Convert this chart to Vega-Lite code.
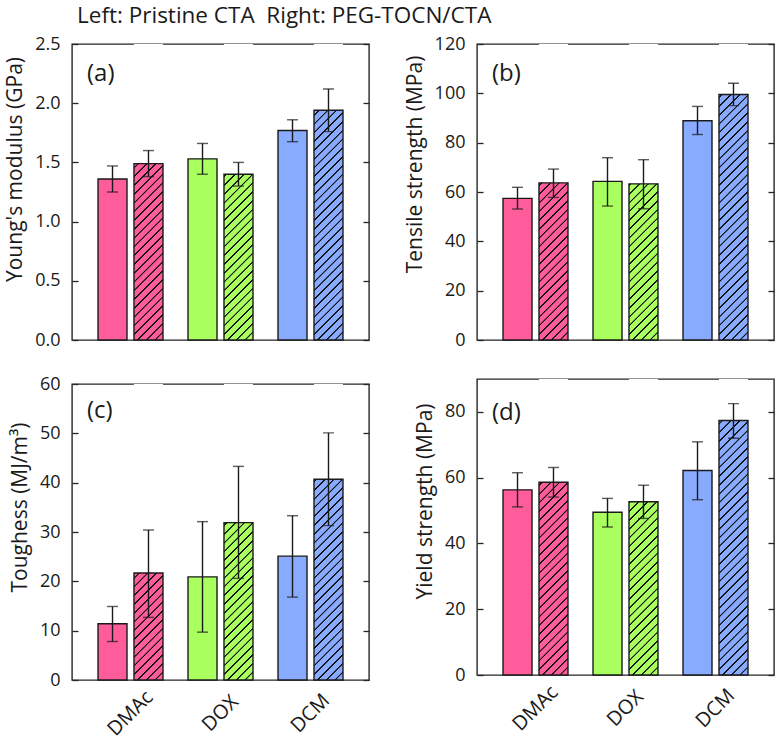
{
  "$schema": "https://vega.github.io/schema/vega-lite/v6.json",
  "padding": {"left": 3, "top": 4, "right": 0, "bottom": 0},
  "params": [
    {"name": "hatch", "value": {"gradient": "linear", "x1": 0, "y1": 0, "x2": 0.1066, "y2": 1.0876, "stops": [
      {"offset": 0, "color": "rgba(0,0,0,0)"}, {"offset": 0.0014, "color": "#111"}, {"offset": 0.0054, "color": "#111"}, {"offset": 0.0068, "color": "rgba(0,0,0,0)"},
      {"offset": 0.027, "color": "rgba(0,0,0,0)"}, {"offset": 0.0284, "color": "#111"}, {"offset": 0.0324, "color": "#111"}, {"offset": 0.0338, "color": "rgba(0,0,0,0)"},
      {"offset": 0.054, "color": "rgba(0,0,0,0)"}, {"offset": 0.0554, "color": "#111"}, {"offset": 0.0594, "color": "#111"}, {"offset": 0.0608, "color": "rgba(0,0,0,0)"},
      {"offset": 0.081, "color": "rgba(0,0,0,0)"}, {"offset": 0.0824, "color": "#111"}, {"offset": 0.0864, "color": "#111"}, {"offset": 0.0878, "color": "rgba(0,0,0,0)"},
      {"offset": 0.108, "color": "rgba(0,0,0,0)"}, {"offset": 0.1094, "color": "#111"}, {"offset": 0.1134, "color": "#111"}, {"offset": 0.1148, "color": "rgba(0,0,0,0)"},
      {"offset": 0.135, "color": "rgba(0,0,0,0)"}, {"offset": 0.1364, "color": "#111"}, {"offset": 0.1404, "color": "#111"}, {"offset": 0.1418, "color": "rgba(0,0,0,0)"},
      {"offset": 0.162, "color": "rgba(0,0,0,0)"}, {"offset": 0.1634, "color": "#111"}, {"offset": 0.1674, "color": "#111"}, {"offset": 0.1688, "color": "rgba(0,0,0,0)"},
      {"offset": 0.189, "color": "rgba(0,0,0,0)"}, {"offset": 0.1904, "color": "#111"}, {"offset": 0.1944, "color": "#111"}, {"offset": 0.1958, "color": "rgba(0,0,0,0)"},
      {"offset": 0.216, "color": "rgba(0,0,0,0)"}, {"offset": 0.2174, "color": "#111"}, {"offset": 0.2214, "color": "#111"}, {"offset": 0.2228, "color": "rgba(0,0,0,0)"},
      {"offset": 0.243, "color": "rgba(0,0,0,0)"}, {"offset": 0.2444, "color": "#111"}, {"offset": 0.2484, "color": "#111"}, {"offset": 0.2498, "color": "rgba(0,0,0,0)"},
      {"offset": 0.27, "color": "rgba(0,0,0,0)"}, {"offset": 0.2714, "color": "#111"}, {"offset": 0.2754, "color": "#111"}, {"offset": 0.2768, "color": "rgba(0,0,0,0)"},
      {"offset": 0.297, "color": "rgba(0,0,0,0)"}, {"offset": 0.2984, "color": "#111"}, {"offset": 0.3024, "color": "#111"}, {"offset": 0.3038, "color": "rgba(0,0,0,0)"},
      {"offset": 0.324, "color": "rgba(0,0,0,0)"}, {"offset": 0.3254, "color": "#111"}, {"offset": 0.3294, "color": "#111"}, {"offset": 0.3308, "color": "rgba(0,0,0,0)"},
      {"offset": 0.351, "color": "rgba(0,0,0,0)"}, {"offset": 0.3524, "color": "#111"}, {"offset": 0.3564, "color": "#111"}, {"offset": 0.3578, "color": "rgba(0,0,0,0)"},
      {"offset": 0.378, "color": "rgba(0,0,0,0)"}, {"offset": 0.3794, "color": "#111"}, {"offset": 0.3834, "color": "#111"}, {"offset": 0.3848, "color": "rgba(0,0,0,0)"},
      {"offset": 0.405, "color": "rgba(0,0,0,0)"}, {"offset": 0.4064, "color": "#111"}, {"offset": 0.4104, "color": "#111"}, {"offset": 0.4118, "color": "rgba(0,0,0,0)"},
      {"offset": 0.432, "color": "rgba(0,0,0,0)"}, {"offset": 0.4334, "color": "#111"}, {"offset": 0.4374, "color": "#111"}, {"offset": 0.4388, "color": "rgba(0,0,0,0)"},
      {"offset": 0.459, "color": "rgba(0,0,0,0)"}, {"offset": 0.4604, "color": "#111"}, {"offset": 0.4644, "color": "#111"}, {"offset": 0.4658, "color": "rgba(0,0,0,0)"},
      {"offset": 0.486, "color": "rgba(0,0,0,0)"}, {"offset": 0.4874, "color": "#111"}, {"offset": 0.4914, "color": "#111"}, {"offset": 0.4928, "color": "rgba(0,0,0,0)"},
      {"offset": 0.513, "color": "rgba(0,0,0,0)"}, {"offset": 0.5144, "color": "#111"}, {"offset": 0.5184, "color": "#111"}, {"offset": 0.5198, "color": "rgba(0,0,0,0)"},
      {"offset": 0.54, "color": "rgba(0,0,0,0)"}, {"offset": 0.5414, "color": "#111"}, {"offset": 0.5454, "color": "#111"}, {"offset": 0.5468, "color": "rgba(0,0,0,0)"},
      {"offset": 0.567, "color": "rgba(0,0,0,0)"}, {"offset": 0.5684, "color": "#111"}, {"offset": 0.5724, "color": "#111"}, {"offset": 0.5738, "color": "rgba(0,0,0,0)"},
      {"offset": 0.594, "color": "rgba(0,0,0,0)"}, {"offset": 0.5954, "color": "#111"}, {"offset": 0.5994, "color": "#111"}, {"offset": 0.6008, "color": "rgba(0,0,0,0)"},
      {"offset": 0.621, "color": "rgba(0,0,0,0)"}, {"offset": 0.6224, "color": "#111"}, {"offset": 0.6264, "color": "#111"}, {"offset": 0.6278, "color": "rgba(0,0,0,0)"},
      {"offset": 0.648, "color": "rgba(0,0,0,0)"}, {"offset": 0.6494, "color": "#111"}, {"offset": 0.6534, "color": "#111"}, {"offset": 0.6548, "color": "rgba(0,0,0,0)"},
      {"offset": 0.675, "color": "rgba(0,0,0,0)"}, {"offset": 0.6764, "color": "#111"}, {"offset": 0.6804, "color": "#111"}, {"offset": 0.6818, "color": "rgba(0,0,0,0)"},
      {"offset": 0.702, "color": "rgba(0,0,0,0)"}, {"offset": 0.7034, "color": "#111"}, {"offset": 0.7074, "color": "#111"}, {"offset": 0.7088, "color": "rgba(0,0,0,0)"},
      {"offset": 0.729, "color": "rgba(0,0,0,0)"}, {"offset": 0.7304, "color": "#111"}, {"offset": 0.7344, "color": "#111"}, {"offset": 0.7358, "color": "rgba(0,0,0,0)"},
      {"offset": 0.756, "color": "rgba(0,0,0,0)"}, {"offset": 0.7574, "color": "#111"}, {"offset": 0.7614, "color": "#111"}, {"offset": 0.7628, "color": "rgba(0,0,0,0)"},
      {"offset": 0.783, "color": "rgba(0,0,0,0)"}, {"offset": 0.7844, "color": "#111"}, {"offset": 0.7884, "color": "#111"}, {"offset": 0.7898, "color": "rgba(0,0,0,0)"},
      {"offset": 0.81, "color": "rgba(0,0,0,0)"}, {"offset": 0.8114, "color": "#111"}, {"offset": 0.8154, "color": "#111"}, {"offset": 0.8168, "color": "rgba(0,0,0,0)"},
      {"offset": 0.837, "color": "rgba(0,0,0,0)"}, {"offset": 0.8384, "color": "#111"}, {"offset": 0.8424, "color": "#111"}, {"offset": 0.8438, "color": "rgba(0,0,0,0)"},
      {"offset": 0.864, "color": "rgba(0,0,0,0)"}, {"offset": 0.8654, "color": "#111"}, {"offset": 0.8694, "color": "#111"}, {"offset": 0.8708, "color": "rgba(0,0,0,0)"},
      {"offset": 0.891, "color": "rgba(0,0,0,0)"}, {"offset": 0.8924, "color": "#111"}, {"offset": 0.8964, "color": "#111"}, {"offset": 0.8978, "color": "rgba(0,0,0,0)"},
      {"offset": 0.918, "color": "rgba(0,0,0,0)"}, {"offset": 0.9194, "color": "#111"}, {"offset": 0.9234, "color": "#111"}, {"offset": 0.9248, "color": "rgba(0,0,0,0)"},
      {"offset": 0.945, "color": "rgba(0,0,0,0)"}, {"offset": 0.9464, "color": "#111"}, {"offset": 0.9504, "color": "#111"}, {"offset": 0.9518, "color": "rgba(0,0,0,0)"},
      {"offset": 0.972, "color": "rgba(0,0,0,0)"}, {"offset": 0.9734, "color": "#111"}, {"offset": 0.9774, "color": "#111"}, {"offset": 0.9788, "color": "rgba(0,0,0,0)"}
    ]}}
  ],
  "config": {
    "font": "Open Sans",
    "view": {"stroke": "#262626", "strokeWidth": 1.4},
    "axis": {"domain": false, "grid": false, "labelFontSize": 18, "labelColor": "#1a1a1a", "titleFontSize": 21, "titleFontWeight": "normal", "titleColor": "#1a1a1a", "tickColor": "#262626", "tickWidth": 1.3, "tickSize": -6, "labelPadding": 18, "titlePadding": 9, "zindex": 1},
    "axisX": {"ticks": false, "tickSize": 0, "labelAngle": -45, "labelAlign": "center", "labelBaseline": "middle", "labelPadding": 33, "labelFontSize": 20},
    "title": {"fontSize": 24, "fontWeight": "normal", "anchor": "start", "frame": "group", "offset": 0, "dx": 15, "baseline": "middle", "color": "#1a1a1a"}
  },
  "datasets": {
    "vals": [
      {"panel": "a", "solvent": "DMAc", "type": "Pristine", "v": 1.36, "lo": 1.25, "hi": 1.47},
      {"panel": "a", "solvent": "DMAc", "type": "PEG-TOCN", "v": 1.49, "lo": 1.38, "hi": 1.6},
      {"panel": "a", "solvent": "DOX", "type": "Pristine", "v": 1.53, "lo": 1.4, "hi": 1.66},
      {"panel": "a", "solvent": "DOX", "type": "PEG-TOCN", "v": 1.4, "lo": 1.3, "hi": 1.5},
      {"panel": "a", "solvent": "DCM", "type": "Pristine", "v": 1.77, "lo": 1.675, "hi": 1.86},
      {"panel": "a", "solvent": "DCM", "type": "PEG-TOCN", "v": 1.94, "lo": 1.76, "hi": 2.12},
      {"panel": "b", "solvent": "DMAc", "type": "Pristine", "v": 57.4, "lo": 53.1, "hi": 61.9},
      {"panel": "b", "solvent": "DMAc", "type": "PEG-TOCN", "v": 63.7, "lo": 57.8, "hi": 69.3},
      {"panel": "b", "solvent": "DOX", "type": "Pristine", "v": 64.3, "lo": 54.3, "hi": 73.9},
      {"panel": "b", "solvent": "DOX", "type": "PEG-TOCN", "v": 63.3, "lo": 53.2, "hi": 73.1},
      {"panel": "b", "solvent": "DCM", "type": "Pristine", "v": 88.9, "lo": 83.3, "hi": 94.7},
      {"panel": "b", "solvent": "DCM", "type": "PEG-TOCN", "v": 99.5, "lo": 95.0, "hi": 104.1},
      {"panel": "c", "solvent": "DMAc", "type": "Pristine", "v": 11.4, "lo": 7.8, "hi": 14.9},
      {"panel": "c", "solvent": "DMAc", "type": "PEG-TOCN", "v": 21.7, "lo": 12.7, "hi": 30.4},
      {"panel": "c", "solvent": "DOX", "type": "Pristine", "v": 20.9, "lo": 9.7, "hi": 32.1},
      {"panel": "c", "solvent": "DOX", "type": "PEG-TOCN", "v": 31.9, "lo": 20.6, "hi": 43.3},
      {"panel": "c", "solvent": "DCM", "type": "Pristine", "v": 25.1, "lo": 16.8, "hi": 33.3},
      {"panel": "c", "solvent": "DCM", "type": "PEG-TOCN", "v": 40.7, "lo": 31.3, "hi": 50.1},
      {"panel": "d", "solvent": "DMAc", "type": "Pristine", "v": 56.3, "lo": 51.1, "hi": 61.5},
      {"panel": "d", "solvent": "DMAc", "type": "PEG-TOCN", "v": 58.6, "lo": 54.1, "hi": 63.1},
      {"panel": "d", "solvent": "DOX", "type": "Pristine", "v": 49.5, "lo": 45.0, "hi": 53.7},
      {"panel": "d", "solvent": "DOX", "type": "PEG-TOCN", "v": 52.7, "lo": 47.6, "hi": 57.7},
      {"panel": "d", "solvent": "DCM", "type": "Pristine", "v": 62.2, "lo": 53.3, "hi": 70.9},
      {"panel": "d", "solvent": "DCM", "type": "PEG-TOCN", "v": 77.4, "lo": 72.0, "hi": 82.5}
    ]
  },
  "data": {"name": "vals"},
  "title": {"text": "Left: Pristine CTA\u00a0 Right: PEG-TOCN/CTA", "fontSize": 22.5, "dx": 5, "offset": -16, "baseline": "bottom"},
  "spacing": 32,
  "hconcat": [
    {
      "spacing": 44,
      "bounds": "flush",
      "vconcat": [
        {
          "width": 297, "height": 296,
          "title": {"text": "(a)", "dy": 55},
          "transform": [{"filter": "datum.panel == 'a'"}],
          "encoding": {
            "x": {"field": "solvent", "type": "nominal", "sort": ["DMAc", "DOX", "DCM"], "scale": {"domain": ["DMAc", "DOX", "DCM"], "paddingInner": 0.278, "paddingOuter": 0.289}, "axis": null},
            "xOffset": {"field": "type", "type": "nominal", "sort": ["Pristine", "PEG-TOCN"], "scale": {"domain": ["Pristine", "PEG-TOCN"], "paddingInner": 0.194, "paddingOuter": 0}}
          },
          "layer": [
            {"mark": {"type": "bar"}, "encoding": {"y": {"field": "v", "type": "quantitative", "scale": {"domain": [0, 2.5], "nice": false}, "axis": null}, "color": {"field": "solvent", "type": "nominal", "scale": {"domain": ["DMAc", "DOX", "DCM"], "range": ["#FF5C9C", "#A8FF5E", "#88AAFF"]}, "legend": null}}},
            {"transform": [{"filter": "datum.type == 'PEG-TOCN'"}], "mark": {"type": "bar", "fill": {"expr": "hatch"}}, "encoding": {"y": {"datum": 2.5, "type": "quantitative", "axis": null}, "y2": {"datum": 0}}},
            {"transform": [{"filter": "datum.type == 'PEG-TOCN'"}], "mark": {"type": "bar", "fill": "#ffffff"}, "encoding": {"y": {"field": "v", "type": "quantitative", "axis": null}, "y2": {"datum": 2.5}}},
            {"mark": {"type": "bar", "fill": "transparent", "stroke": "#1a1a1a", "strokeWidth": 1.4}, "encoding": {"y": {"field": "v", "type": "quantitative", "axis": {"orient": "left", "title": "Young's modulus (GPa)", "values": [0, 0.5, 1, 1.5, 2, 2.5], "format": ".1f", "titleY": 125}}}},
            {"mark": {"type": "rule", "stroke": "#1a1a1a", "strokeWidth": 1.4}, "encoding": {"y": {"field": "lo", "type": "quantitative", "axis": {"orient": "right", "title": null, "labels": false, "values": [0, 0.5, 1, 1.5, 2, 2.5]}}, "y2": {"field": "hi"}}},
            {"mark": {"type": "tick", "orient": "horizontal", "size": 11, "thickness": 1.4, "color": "#1a1a1a"}, "encoding": {"y": {"field": "lo", "type": "quantitative", "axis": null}}},
            {"mark": {"type": "tick", "orient": "horizontal", "size": 11, "thickness": 1.4, "color": "#1a1a1a"}, "encoding": {"y": {"field": "hi", "type": "quantitative", "axis": null}}}
          ],
          "resolve": {"axis": {"y": "independent"}}
        },
        {
          "width": 297, "height": 296,
          "title": {"text": "(c)", "dy": 52},
          "transform": [{"filter": "datum.panel == 'c'"}],
          "encoding": {
            "x": {"field": "solvent", "type": "nominal", "sort": ["DMAc", "DOX", "DCM"], "scale": {"domain": ["DMAc", "DOX", "DCM"], "paddingInner": 0.278, "paddingOuter": 0.289}, "axis": {"title": null, "orient": "bottom"}},
            "xOffset": {"field": "type", "type": "nominal", "sort": ["Pristine", "PEG-TOCN"], "scale": {"domain": ["Pristine", "PEG-TOCN"], "paddingInner": 0.194, "paddingOuter": 0}}
          },
          "layer": [
            {"mark": {"type": "bar"}, "encoding": {"y": {"field": "v", "type": "quantitative", "scale": {"domain": [0, 60], "nice": false}, "axis": null}, "color": {"field": "solvent", "type": "nominal", "scale": {"domain": ["DMAc", "DOX", "DCM"], "range": ["#FF5C9C", "#A8FF5E", "#88AAFF"]}, "legend": null}}},
            {"transform": [{"filter": "datum.type == 'PEG-TOCN'"}], "mark": {"type": "bar", "fill": {"expr": "hatch"}}, "encoding": {"y": {"datum": 60, "type": "quantitative", "axis": null}, "y2": {"datum": 0}}},
            {"transform": [{"filter": "datum.type == 'PEG-TOCN'"}], "mark": {"type": "bar", "fill": "#ffffff"}, "encoding": {"y": {"field": "v", "type": "quantitative", "axis": null}, "y2": {"datum": 60}}},
            {"mark": {"type": "bar", "fill": "transparent", "stroke": "#1a1a1a", "strokeWidth": 1.4}, "encoding": {"y": {"field": "v", "type": "quantitative", "axis": {"orient": "left", "title": "Toughess (MJ/m³)", "values": [0, 10, 20, 30, 40, 50, 60], "titleY": 123}}}},
            {"mark": {"type": "rule", "stroke": "#1a1a1a", "strokeWidth": 1.4}, "encoding": {"y": {"field": "lo", "type": "quantitative", "axis": {"orient": "right", "title": null, "labels": false, "values": [0, 10, 20, 30, 40, 50, 60]}}, "y2": {"field": "hi"}}},
            {"mark": {"type": "tick", "orient": "horizontal", "size": 11, "thickness": 1.4, "color": "#1a1a1a"}, "encoding": {"y": {"field": "lo", "type": "quantitative", "axis": null}}},
            {"mark": {"type": "tick", "orient": "horizontal", "size": 11, "thickness": 1.4, "color": "#1a1a1a"}, "encoding": {"y": {"field": "hi", "type": "quantitative", "axis": null}}}
          ],
          "resolve": {"axis": {"y": "independent"}}
        }
      ]
    },
    {
      "spacing": 39,
      "bounds": "flush",
      "vconcat": [
        {
          "width": 297, "height": 296,
          "title": {"text": "(b)", "dy": 55},
          "transform": [{"filter": "datum.panel == 'b'"}],
          "encoding": {
            "x": {"field": "solvent", "type": "nominal", "sort": ["DMAc", "DOX", "DCM"], "scale": {"domain": ["DMAc", "DOX", "DCM"], "paddingInner": 0.278, "paddingOuter": 0.289}, "axis": null},
            "xOffset": {"field": "type", "type": "nominal", "sort": ["Pristine", "PEG-TOCN"], "scale": {"domain": ["Pristine", "PEG-TOCN"], "paddingInner": 0.194, "paddingOuter": 0}}
          },
          "layer": [
            {"mark": {"type": "bar"}, "encoding": {"y": {"field": "v", "type": "quantitative", "scale": {"domain": [0, 120], "nice": false}, "axis": null}, "color": {"field": "solvent", "type": "nominal", "scale": {"domain": ["DMAc", "DOX", "DCM"], "range": ["#FF5C9C", "#A8FF5E", "#88AAFF"]}, "legend": null}}},
            {"transform": [{"filter": "datum.type == 'PEG-TOCN'"}], "mark": {"type": "bar", "fill": {"expr": "hatch"}}, "encoding": {"y": {"datum": 120, "type": "quantitative", "axis": null}, "y2": {"datum": 0}}},
            {"transform": [{"filter": "datum.type == 'PEG-TOCN'"}], "mark": {"type": "bar", "fill": "#ffffff"}, "encoding": {"y": {"field": "v", "type": "quantitative", "axis": null}, "y2": {"datum": 120}}},
            {"mark": {"type": "bar", "fill": "transparent", "stroke": "#1a1a1a", "strokeWidth": 1.4}, "encoding": {"y": {"field": "v", "type": "quantitative", "axis": {"orient": "left", "title": "Tensile strength (MPa)", "values": [0, 20, 40, 60, 80, 100, 120], "titleY": 120}}}},
            {"mark": {"type": "rule", "stroke": "#1a1a1a", "strokeWidth": 1.4}, "encoding": {"y": {"field": "lo", "type": "quantitative", "axis": {"orient": "right", "title": null, "labels": false, "values": [0, 20, 40, 60, 80, 100, 120]}}, "y2": {"field": "hi"}}},
            {"mark": {"type": "tick", "orient": "horizontal", "size": 11, "thickness": 1.4, "color": "#1a1a1a"}, "encoding": {"y": {"field": "lo", "type": "quantitative", "axis": null}}},
            {"mark": {"type": "tick", "orient": "horizontal", "size": 11, "thickness": 1.4, "color": "#1a1a1a"}, "encoding": {"y": {"field": "hi", "type": "quantitative", "axis": null}}}
          ],
          "resolve": {"axis": {"y": "independent"}}
        },
        {
          "width": 297, "height": 296,
          "title": {"text": "(d)", "dy": 50},
          "transform": [{"filter": "datum.panel == 'd'"}],
          "encoding": {
            "x": {"field": "solvent", "type": "nominal", "sort": ["DMAc", "DOX", "DCM"], "scale": {"domain": ["DMAc", "DOX", "DCM"], "paddingInner": 0.278, "paddingOuter": 0.289}, "axis": {"title": null, "orient": "bottom"}},
            "xOffset": {"field": "type", "type": "nominal", "sort": ["Pristine", "PEG-TOCN"], "scale": {"domain": ["Pristine", "PEG-TOCN"], "paddingInner": 0.194, "paddingOuter": 0}}
          },
          "layer": [
            {"mark": {"type": "bar"}, "encoding": {"y": {"field": "v", "type": "quantitative", "scale": {"domain": [0, 90], "nice": false}, "axis": null}, "color": {"field": "solvent", "type": "nominal", "scale": {"domain": ["DMAc", "DOX", "DCM"], "range": ["#FF5C9C", "#A8FF5E", "#88AAFF"]}, "legend": null}}},
            {"transform": [{"filter": "datum.type == 'PEG-TOCN'"}], "mark": {"type": "bar", "fill": {"expr": "hatch"}}, "encoding": {"y": {"datum": 90, "type": "quantitative", "axis": null}, "y2": {"datum": 0}}},
            {"transform": [{"filter": "datum.type == 'PEG-TOCN'"}], "mark": {"type": "bar", "fill": "#ffffff"}, "encoding": {"y": {"field": "v", "type": "quantitative", "axis": null}, "y2": {"datum": 90}}},
            {"mark": {"type": "bar", "fill": "transparent", "stroke": "#1a1a1a", "strokeWidth": 1.4}, "encoding": {"y": {"field": "v", "type": "quantitative", "axis": {"orient": "left", "title": "Yield strength (MPa)", "values": [0, 20, 40, 60, 80], "titleY": 122}}}},
            {"mark": {"type": "rule", "stroke": "#1a1a1a", "strokeWidth": 1.4}, "encoding": {"y": {"field": "lo", "type": "quantitative", "axis": {"orient": "right", "title": null, "labels": false, "values": [0, 20, 40, 60, 80]}}, "y2": {"field": "hi"}}},
            {"mark": {"type": "tick", "orient": "horizontal", "size": 11, "thickness": 1.4, "color": "#1a1a1a"}, "encoding": {"y": {"field": "lo", "type": "quantitative", "axis": null}}},
            {"mark": {"type": "tick", "orient": "horizontal", "size": 11, "thickness": 1.4, "color": "#1a1a1a"}, "encoding": {"y": {"field": "hi", "type": "quantitative", "axis": null}}}
          ],
          "resolve": {"axis": {"y": "independent"}}
        }
      ]
    }
  ]
}
